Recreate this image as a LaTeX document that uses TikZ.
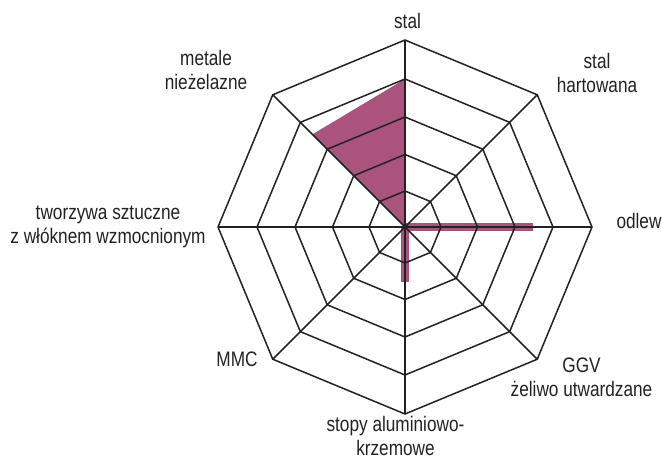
\documentclass[tikz,border=0pt]{standalone}
\usepackage{fontspec}
\setmainfont{Liberation Sans}[FakeStretch=0.82]
\definecolor{dataC}{RGB}{170,83,124}
\definecolor{gridC}{RGB}{34,34,34}
\begin{document}
\begin{tikzpicture}[x=1pt,y=1pt,
  grid/.style={draw=gridC, line width=1.5pt, line join=miter},
  datafill/.style={fill=dataC},
  databar/.style={draw=dataC, line width=7.5pt},
  lbl/.style={font=\fontsize{21}{24}\selectfont, inner sep=0pt, anchor=base, align=center, text=gridC}]
\useasboundingbox (0,-461) rectangle (663,0);
\coordinate (O) at (405,-227);
\begin{scope}[shift={(405,-227)}]
  % data
  \fill[datafill] (0,0) coordinate (d0) -- (90:148) coordinate (d1) -- (135:131) coordinate (d2) -- cycle;
  \coordinate (bR) at (128,0);
  \coordinate (bD) at (0,-55);
  \draw[databar] (d0) -- (bR);
  \draw[databar] (d0) -- (bD);
  % rings
  \foreach \r in {36,72.5,110,148,187}{
    \draw[grid] (90:\r) -- (45:\r) -- (0:\r) -- (-45:\r) -- (-90:\r) -- (-135:\r) -- (180:\r) -- (135:\r) -- cycle;
  }
  % spokes
  \foreach \a in {90,45,0,-45,-90,-135,180,135}{
    \coordinate (v\a) at (\a:187);
    \draw[grid] (d0) -- (v\a);
  }
\end{scope}
% labels (multi-line nodes: base = baseline of last line)
\node[lbl] (l1) at (407.5,-28.3) {stal};
\node[lbl] (l2) at (597,-92.7) {stal\\hartowana};
\node[lbl] (l3) at (639,-228.3) {odlew};
\node[lbl] (l4) at (581.5,-396.7) {GGV\\żeliwo utwardzane};
\node[lbl] (l5) at (395.5,-455.5) {stopy aluminiowo-\\krzemowe};
\node[lbl] (l6) at (237,-366) {MMC};
\node[lbl] (l7) at (108,-243.5) {tworzywa sztuczne\\z włóknem wzmocnionym};
\node[lbl] (l8) at (206,-89.3) {metale\\nieżelazne};
\end{tikzpicture}
\end{document}
